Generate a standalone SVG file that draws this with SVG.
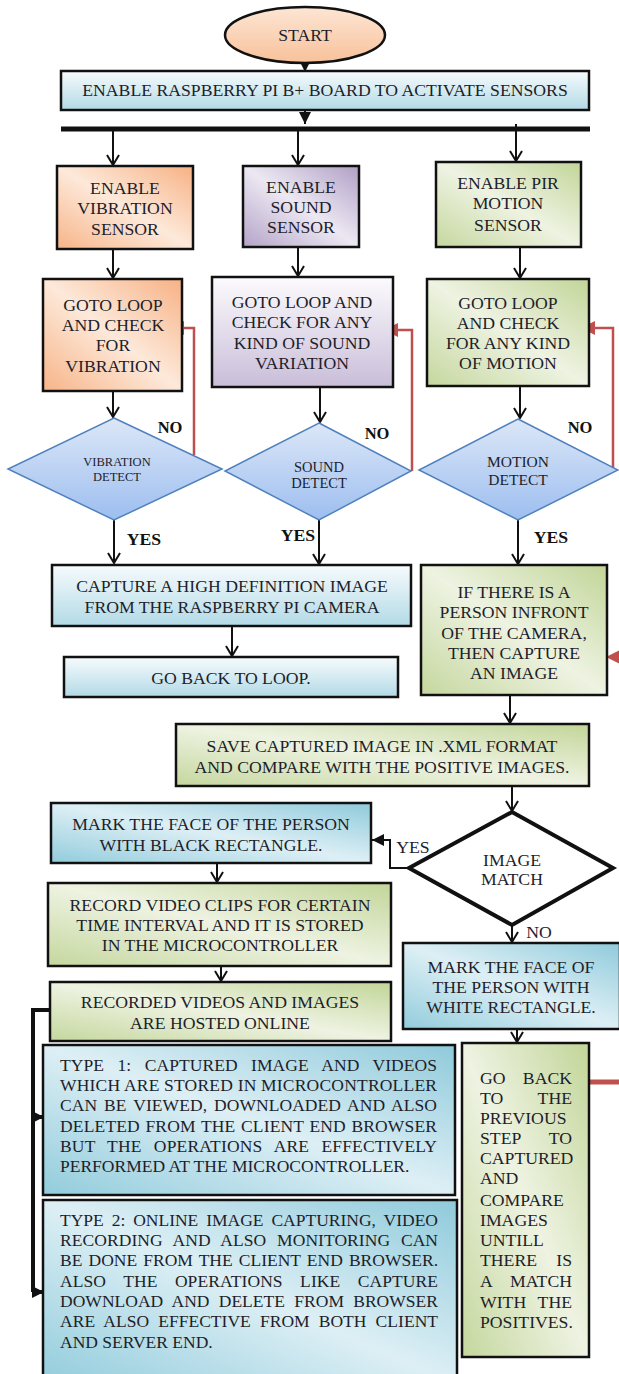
<svg xmlns="http://www.w3.org/2000/svg" width="619" height="1374" viewBox="0 0 619 1374">
<style>
text{font-family:'Liberation Serif','Times New Roman','DejaVu Serif',serif}
.t{font-size:17.7px;fill:#1e1e2a;text-anchor:middle}
.j{font-size:17.5px}
.l{text-anchor:start}
.r{text-anchor:end}
.b{font-weight:bold;fill:#111}
.box{stroke:#111;stroke-width:2.5}
.dia{stroke:#4F81BD;stroke-width:1.5;fill:url(#gDia)}
.c{fill:none;stroke:#111;stroke-width:2;marker-end:url(#mOpen)}
.cf{fill:none;stroke:#111;stroke-width:2;marker-end:url(#mFill)}
.red{fill:none;stroke:#C0504D;stroke-width:2.5;marker-end:url(#mRed)}
</style>
<defs>
<marker id="mOpen" viewBox="0 0 12 14" refX="11" refY="7" markerWidth="12" markerHeight="14" markerUnits="userSpaceOnUse" orient="auto">
<path d="M1,1 L11,7 L1,13" fill="none" stroke="#111" stroke-width="2"/>
</marker>
<marker id="mFill" viewBox="0 0 12 12" refX="12" refY="6" markerWidth="12" markerHeight="12" markerUnits="userSpaceOnUse" orient="auto">
<path d="M0,0 L12,6 L0,12 z" fill="#111"/>
</marker>
<marker id="mRed" viewBox="0 0 14 14" refX="14" refY="7" markerWidth="14" markerHeight="14" markerUnits="userSpaceOnUse" orient="auto">
<path d="M0,0 L14,7 L0,14 z" fill="#C0504D"/>
</marker>
<linearGradient id="gOrange" x1="1" y1="0" x2="0" y2="1">
<stop offset="0" stop-color="#F7B184"/><stop offset="0.5" stop-color="#FDE9DA"/><stop offset="1" stop-color="#F7B488"/>
</linearGradient>
<linearGradient id="gPurple" x1="1" y1="0" x2="0" y2="1">
<stop offset="0" stop-color="#B09FC6"/><stop offset="0.5" stop-color="#ECE8F2"/><stop offset="1" stop-color="#B3A3C8"/>
</linearGradient>
<linearGradient id="gPurpleV" x1="0" y1="0" x2="0" y2="1">
<stop offset="0" stop-color="#FCFBFD"/><stop offset="1" stop-color="#C9BDD9"/>
</linearGradient>
<linearGradient id="gGreen" x1="1" y1="0" x2="0" y2="1">
<stop offset="0" stop-color="#C2D598"/><stop offset="0.5" stop-color="#EEF3E2"/><stop offset="1" stop-color="#C5D79E"/>
</linearGradient>
<linearGradient id="gBlueV" x1="0" y1="0" x2="0" y2="1">
<stop offset="0" stop-color="#F7FBFD"/><stop offset="1" stop-color="#B2DAE6"/>
</linearGradient>
<linearGradient id="gBlue" x1="1" y1="0" x2="0" y2="1">
<stop offset="0" stop-color="#8FCADB"/><stop offset="0.5" stop-color="#DDEFF5"/><stop offset="1" stop-color="#92CCDC"/>
</linearGradient>
<linearGradient id="gDia" x1="0" y1="0" x2="0" y2="1">
<stop offset="0" stop-color="#DCE7F7"/><stop offset="1" stop-color="#9DBEF0"/>
</linearGradient>
<linearGradient id="gStart" x1="0" y1="0" x2="0" y2="1">
<stop offset="0" stop-color="#FDE6D4"/><stop offset="1" stop-color="#F8C19B"/>
</linearGradient>
</defs>

<g id="connectors">
<path class="cf" d="M305,63 V72"/>
<path class="cf" d="M305,110 V124"/>
<line x1="61" y1="129" x2="590" y2="129" stroke="#111" stroke-width="5"/>
<path class="c" d="M113,131 V165"/>
<path class="c" d="M298,131 V165"/>
<path class="c" d="M516,124 V161"/>
<path class="c" d="M113,249 V278"/>
<path class="c" d="M298,247 V276"/>
<path class="c" d="M520,247 V278"/>
<path class="c" d="M113,391 V417"/>
<path class="c" d="M320,387 V422"/>
<path class="c" d="M520,386 V418"/>
<path class="red" d="M194,455 V328 H170"/>
<path class="red" d="M412,471 V330 H384"/>
<path class="red" d="M613,472 V328 H581"/>
<path class="c" d="M114,520 V563"/>
<path class="c" d="M319,520 V564"/>
<path class="c" d="M518,520 V564"/>
<path class="c" d="M232,626 V656"/>
<path d="M606,657 L620,650 L620,664 z" fill="#C0504D"/>
<path class="c" d="M510,695 V723"/>
<path class="c" d="M512,786 V811"/>
<path class="cf" d="M408,868 H390 V840 H372"/>
<path class="c" d="M217,863 V882"/>
<path class="c" d="M221,966 V981"/>
<path class="c" d="M512,925 V942"/>
<path class="c" d="M517,1029 V1042"/>
<path d="M50,1010 H33 V1292" fill="none" stroke="#111" stroke-width="4"/>
<path d="M33,1117 H44" fill="none" stroke="#111" stroke-width="4" marker-end="url(#mFill)"/>
<path d="M33,1292 H44" fill="none" stroke="#111" stroke-width="4" marker-end="url(#mFill)"/>
<line x1="589" y1="1082" x2="619" y2="1082" stroke="#C0504D" stroke-width="5"/>
</g>

<g id="start">
<ellipse cx="305" cy="35" rx="80" ry="28" fill="url(#gStart)" class="box" stroke-width="2"/>
<text class="t" x="305" y="41">START</text>
</g>

<g id="enable-board">
<rect x="61" y="71" width="528" height="39" fill="url(#gBlueV)" class="box"/>
<text class="t" x="325" y="96">ENABLE RASPBERRY PI B+ BOARD TO ACTIVATE SENSORS</text>
</g>

<g id="enable-vibration">
<rect x="57" y="166" width="136" height="83" fill="url(#gOrange)" class="box"/>
<text class="t" x="125" y="194">ENABLE</text>
<text class="t" x="125" y="214">VIBRATION</text>
<text class="t" x="125" y="235">SENSOR</text>
</g>

<g id="enable-sound">
<rect x="243" y="166" width="116" height="81" fill="url(#gPurple)" class="box"/>
<text class="t" x="301" y="193">ENABLE</text>
<text class="t" x="301" y="213">SOUND</text>
<text class="t" x="301" y="233">SENSOR</text>
</g>

<g id="enable-pir">
<rect x="436" y="162" width="145" height="85" fill="url(#gGreen)" class="box"/>
<text class="t" x="508" y="189">ENABLE PIR</text>
<text class="t" x="508" y="209">MOTION</text>
<text class="t" x="508" y="231">SENSOR</text>
</g>

<g id="loop-vibration">
<rect x="43" y="279" width="139" height="112" fill="url(#gOrange)" class="box"/>
<text class="t" x="113" y="311">GOTO LOOP</text>
<text class="t" x="113" y="331">AND CHECK</text>
<text class="t" x="113" y="351">FOR</text>
<text class="t" x="113" y="372">VIBRATION</text>
</g>

<g id="loop-sound">
<rect x="212" y="277" width="181" height="110" fill="url(#gPurpleV)" class="box"/>
<text class="t" x="302" y="308">GOTO LOOP AND</text>
<text class="t" x="302" y="328">CHECK FOR ANY</text>
<text class="t" x="302" y="349">KIND OF SOUND</text>
<text class="t" x="302" y="369">VARIATION</text>
</g>

<g id="loop-motion">
<rect x="427" y="279" width="162" height="107" fill="url(#gGreen)" class="box"/>
<text class="t" x="508" y="309">GOTO LOOP</text>
<text class="t" x="508" y="329">AND CHECK</text>
<text class="t" x="508" y="349">FOR ANY KIND</text>
<text class="t" x="508" y="369">OF MOTION</text>
</g>

<g id="vibration-detect">
<polygon points="114,418 222,469 114,520 8,469" class="dia"/>
<text class="t" x="117" y="466" style="font-size:12.5px">VIBRATION</text>
<text class="t" x="117" y="481" style="font-size:12.5px">DETECT</text>
<text class="t b" x="170" y="433" style="font-size:16.5px">NO</text>
<text class="t b" x="144" y="545">YES</text>
</g>

<g id="sound-detect">
<polygon points="319,423 411,471 319,520 225,471" class="dia"/>
<text class="t" x="319" y="472" style="font-size:14.5px">SOUND</text>
<text class="t" x="319" y="488" style="font-size:14.5px">DETECT</text>
<text class="t b" x="377" y="439" style="font-size:16.5px">NO</text>
<text class="t b" x="298" y="541">YES</text>
</g>

<g id="motion-detect">
<polygon points="518,419 618,470 518,520 419,470" class="dia"/>
<text class="t" x="518" y="467" style="font-size:15.5px">MOTION</text>
<text class="t" x="518" y="485" style="font-size:15.5px">DETECT</text>
<text class="t b" x="580" y="433" style="font-size:16.5px">NO</text>
<text class="t b" x="551" y="543">YES</text>
</g>

<g id="capture-hd">
<rect x="52" y="565" width="359" height="61" fill="url(#gBlueV)" class="box"/>
<text class="t" x="232" y="592">CAPTURE A HIGH DEFINITION IMAGE</text>
<text class="t" x="232" y="613">FROM THE RASPBERRY PI CAMERA</text>
</g>

<g id="go-back-loop">
<rect x="64" y="657" width="334" height="40" fill="url(#gBlueV)" class="box"/>
<text class="t" x="231" y="684">GO BACK TO LOOP.</text>
</g>

<g id="capture-person">
<rect x="421" y="565" width="186" height="130" fill="url(#gGreen)" class="box"/>
<text class="t" x="514" y="598">IF THERE IS A</text>
<text class="t" x="514" y="618">PERSON INFRONT</text>
<text class="t" x="514" y="639">OF THE CAMERA,</text>
<text class="t" x="514" y="659">THEN CAPTURE</text>
<text class="t" x="514" y="679">AN IMAGE</text>
</g>

<g id="save-xml">
<rect x="176" y="724" width="413" height="62" fill="url(#gGreen)" class="box"/>
<text class="t" x="382" y="752">SAVE CAPTURED IMAGE IN .XML FORMAT</text>
<text class="t" x="382" y="773">AND COMPARE WITH THE POSITIVE IMAGES.</text>
</g>

<g id="image-match">
<polygon points="512,812 613,868 512,925 409,868" fill="#fff" stroke="#111" stroke-width="4" stroke-linejoin="miter"/>
<text class="t" x="512" y="866">IMAGE</text>
<text class="t" x="512" y="885">MATCH</text>
<text class="t" x="413" y="853">YES</text>
<text class="t" x="539" y="938">NO</text>
</g>

<g id="mark-black">
<rect x="51" y="803" width="320" height="60" fill="url(#gBlue)" class="box"/>
<text class="t" x="211" y="830">MARK THE FACE OF THE PERSON</text>
<text class="t" x="211" y="851">WITH BLACK RECTANGLE.</text>
</g>

<g id="record-video">
<rect x="48" y="883" width="343" height="83" fill="url(#gGreen)" class="box"/>
<text class="t" x="220" y="911">RECORD VIDEO CLIPS FOR CERTAIN</text>
<text class="t" x="220" y="931">TIME INTERVAL AND IT IS STORED</text>
<text class="t" x="220" y="951">IN THE MICROCONTROLLER</text>
</g>

<g id="hosted-online">
<rect x="50" y="982" width="341" height="59" fill="url(#gGreen)" class="box"/>
<text class="t" x="220" y="1008">RECORDED VIDEOS AND IMAGES</text>
<text class="t" x="220" y="1029">ARE HOSTED ONLINE</text>
</g>

<g id="mark-white">
<rect x="403" y="943" width="217" height="86" fill="url(#gBlue)" class="box"/>
<text class="t" x="511" y="973">MARK THE FACE OF</text>
<text class="t" x="511" y="993">THE PERSON WITH</text>
<text class="t" x="511" y="1013">WHITE RECTANGLE.</text>
</g>

<g id="type1">
<rect x="43" y="1045" width="412" height="150" fill="url(#gBlue)" class="box"/>
<text class="t j l" x="60" y="1071" textLength="377" lengthAdjust="spacing" style="word-spacing:9px">TYPE 1: CAPTURED IMAGE AND VIDEOS</text>
<text class="t j l" x="60" y="1091" textLength="377" lengthAdjust="spacing">WHICH ARE STORED IN MICROCONTROLLER</text>
<text class="t j l" x="60" y="1111" textLength="377" lengthAdjust="spacing" style="word-spacing:2.5px">CAN BE VIEWED, DOWNLOADED AND ALSO</text>
<text class="t j l" x="60" y="1132" textLength="377" lengthAdjust="spacing" style="word-spacing:1px">DELETED FROM THE CLIENT END BROWSER</text>
<text class="t j l" x="60" y="1152" textLength="377" lengthAdjust="spacing" style="word-spacing:7.7px">BUT THE OPERATIONS ARE EFFECTIVELY</text>
<text class="t j l" x="60" y="1172">PERFORMED AT THE MICROCONTROLLER.</text>
</g>

<g id="type2">
<rect x="43" y="1200" width="414" height="185" fill="url(#gBlue)" class="box"/>
<text class="t j l" x="60" y="1226" textLength="378" lengthAdjust="spacing" style="word-spacing:3.5px">TYPE 2: ONLINE IMAGE CAPTURING, VIDEO</text>
<text class="t j l" x="60" y="1246" textLength="378" lengthAdjust="spacing" style="word-spacing:6.3px">RECORDING AND ALSO MONITORING CAN</text>
<text class="t j l" x="60" y="1266" textLength="378" lengthAdjust="spacing" style="word-spacing:1.7px">BE DONE FROM THE CLIENT END BROWSER.</text>
<text class="t j l" x="60" y="1287" textLength="378" lengthAdjust="spacing" style="word-spacing:13px">ALSO THE OPERATIONS LIKE CAPTURE</text>
<text class="t j l" x="60" y="1307" textLength="378" lengthAdjust="spacing" style="word-spacing:4.8px">DOWNLOAD AND DELETE FROM BROWSER</text>
<text class="t j l" x="60" y="1327" textLength="378" lengthAdjust="spacing" style="word-spacing:4.7px">ARE ALSO EFFECTIVE FROM BOTH CLIENT</text>
<text class="t j l" x="60" y="1348">AND SERVER END.</text>
</g>

<g id="go-back-compare">
<rect x="462" y="1043" width="127" height="314" fill="url(#gGreen)" class="box"/>
<text class="t l" x="480" y="1084">GO</text><text class="t r" x="572" y="1084">BACK</text>
<text class="t l" x="480" y="1104">TO</text><text class="t r" x="572" y="1104">THE</text>
<text class="t l" x="480" y="1124">PREVIOUS</text>
<text class="t l" x="480" y="1144">STEP</text><text class="t r" x="572" y="1144">TO</text>
<text class="t l" x="480" y="1164">CAPTURED</text>
<text class="t l" x="480" y="1184">AND</text>
<text class="t l" x="480" y="1206">COMPARE</text>
<text class="t l" x="480" y="1226">IMAGES</text>
<text class="t l" x="480" y="1246">UNTILL</text>
<text class="t l" x="480" y="1266">THERE</text><text class="t r" x="572" y="1266">IS</text>
<text class="t l" x="480" y="1287">A</text><text class="t r" x="572" y="1287">MATCH</text>
<text class="t l" x="480" y="1308">WITH</text><text class="t r" x="572" y="1308">THE</text>
<text class="t l" x="480" y="1328">POSITIVES.</text>
</g>
</svg>
